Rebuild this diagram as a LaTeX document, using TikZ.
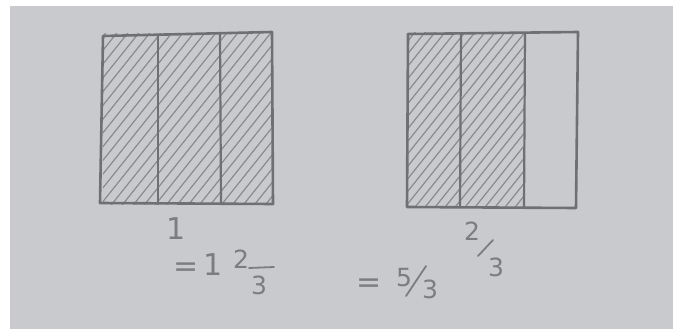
\documentclass[tikz,border=0pt]{standalone}
\usepackage{fontspec}
\setmainfont{DejaVu Sans}
\definecolor{paper}{RGB}{201,202,205}
\definecolor{ink}{RGB}{112,112,114}
\definecolor{hatchink}{RGB}{140,140,143}
\definecolor{pencil}{RGB}{125,125,127}
\tikzset{
  frame/.style={draw=ink,line width=2.6pt,line cap=round,line join=round},
  divider/.style={draw=ink,line width=2.2pt,line cap=round},
  hatch/.style={draw=hatchink,line width=1.2pt},
  hw/.style={text=pencil,inner sep=0pt,font=\fontsize{30}{30}\selectfont},
  hwsmall/.style={text=pencil,inner sep=0pt,font=\fontsize{25}{25}\selectfont},
  stroke/.style={draw=pencil,line width=1.8pt,line cap=round}
}
\begin{document}
\begin{tikzpicture}[x=1pt,y=-1pt]
\useasboundingbox (0,0) rectangle (679,329);
\fill[white] (0,0) rectangle (679,329);
\fill[paper] (10,6) rectangle (673,329);
% left whole: all three thirds hatched
\begin{scope}
\clip (103,34) rectangle (272,204);
\foreach \i in {-20,...,30} {
  \draw[hatch] (103+\i*11-10,214) -- (103+\i*11+150,14);
}
\end{scope}
% right: two thirds hatched
\begin{scope}
\clip (408,33) rectangle (525,206);
\foreach \i in {-20,...,30} {
  \draw[hatch] (408+\i*10-10,216) -- (408+\i*10+150,16);
}
\end{scope}
% frames
\coordinate (La) at (103,36);
\coordinate (Lb) at (272,32);
\coordinate (Lc) at (273,204);
\coordinate (Ld) at (100,203);
\draw[frame] (La) -- (Lb) -- (Lc) -- (Ld) -- cycle;
\draw[divider] (158,35) -- (158,204);
\draw[divider] (220,34) -- (221,204);
\coordinate (Ra) at (408,34);
\coordinate (Rb) at (578,32);
\coordinate (Rc) at (576,208);
\coordinate (Rd) at (407,207);
\draw[frame] (Ra) -- (Rb) -- (Rc) -- (Rd) -- cycle;
\draw[divider] (461,34) -- (460,207);
\draw[divider] (525,34) -- (524,207);
% labels
\node[hw] (one) at (176,229) {1};
\node[hw] (eqa) at (186,270) {=};
\node[hw] (onea) at (213,265) {1};
\node[hwsmall] (twoa) at (241,259) {2};
\node[hwsmall] (threea) at (259,285) {3};
\draw[stroke] (249,268) -- (274,267);
\node[hw] (eqb) at (369,286) {=};
\node[hwsmall] (five) at (404,278) {5};
\node[hwsmall] (threeb) at (430,289) {3};
\draw[stroke] (406,296) -- (426,266);
\node[hwsmall] (twob) at (472,231) {2};
\node[hwsmall] (threec) at (496,267) {3};
\draw[stroke] (478,256) -- (493,240);
\end{tikzpicture}
\end{document}
